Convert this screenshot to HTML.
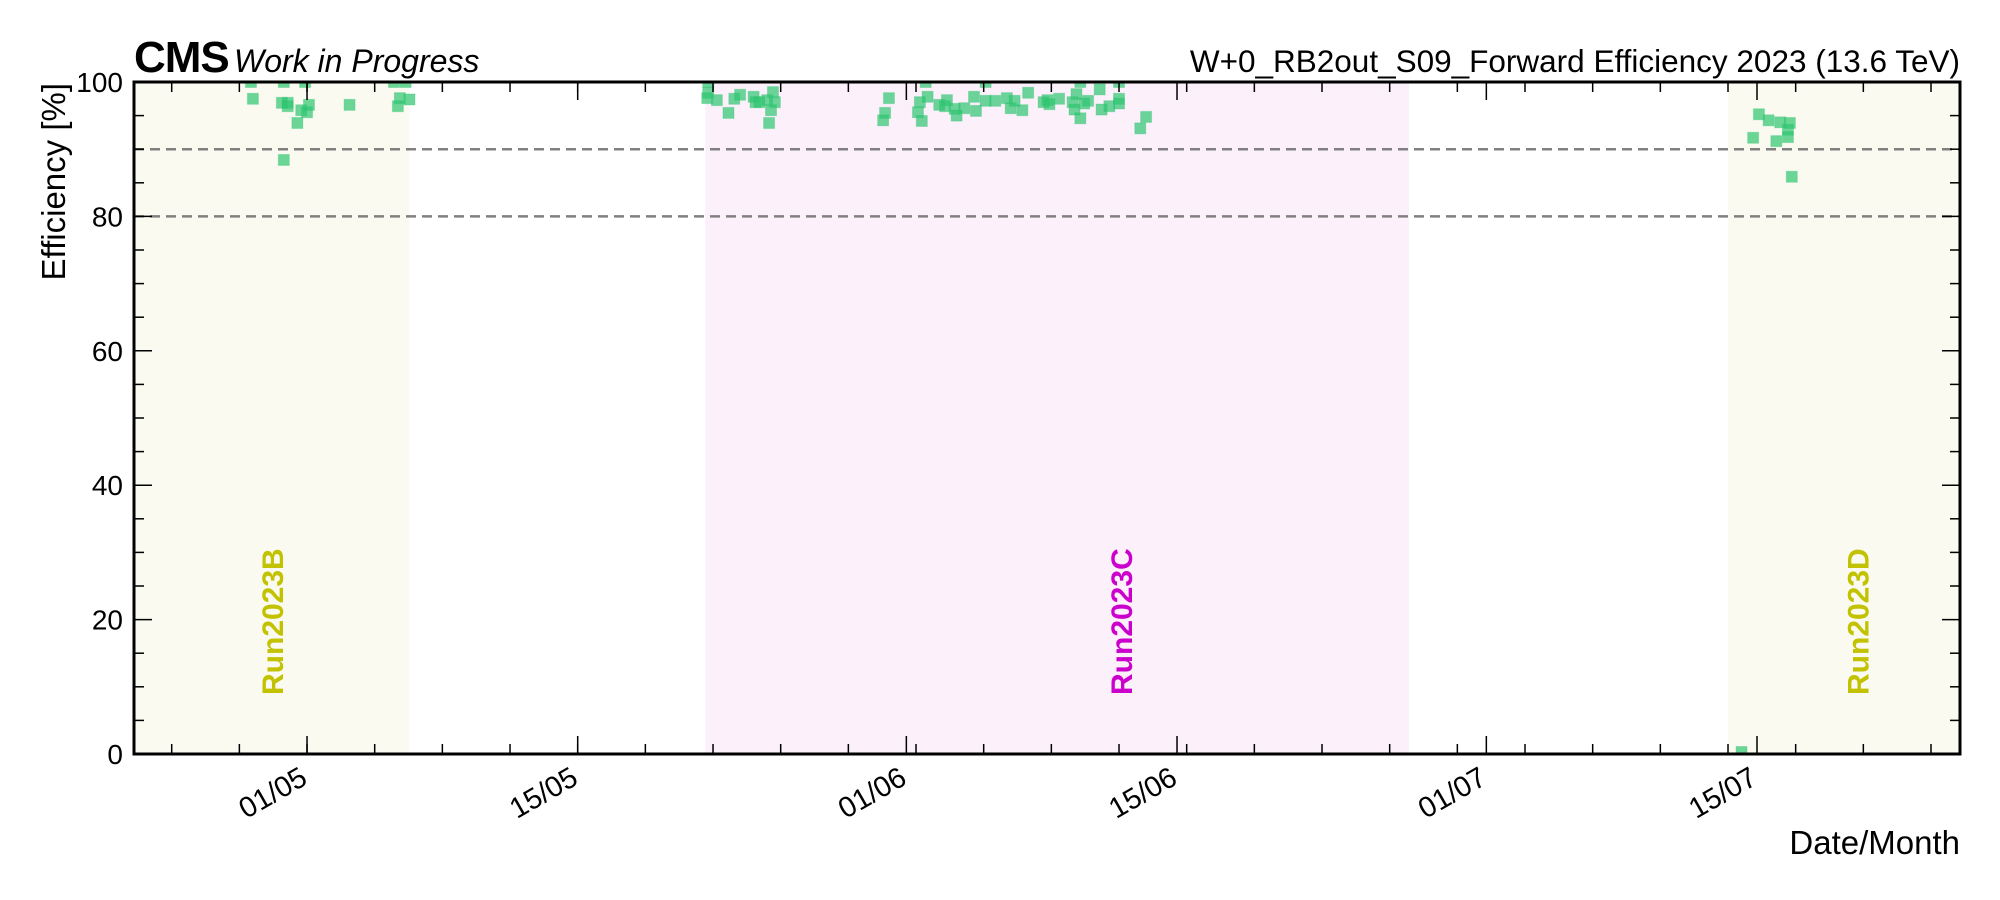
<!DOCTYPE html>
<html><head><meta charset="utf-8"><style>
html,body{margin:0;padding:0;background:#fff;}
svg{display:block;font-family:"Liberation Sans",Arial,sans-serif;}
</style></head><body>
<svg id="chart" width="2000" height="900" viewBox="0 0 2000 900" xmlns="http://www.w3.org/2000/svg">
<defs><clipPath id="plotclip"><rect x="134" y="82" width="1826" height="672"/></clipPath></defs>
<g id="bg"></g>
<g id="lines"></g>
<g id="pts" clip-path="url(#plotclip)"></g>
<g id="axes"></g>
<text x="134" y="72" font-size="44" font-weight="bold" letter-spacing="-1">CMS</text>
<text x="234" y="72" font-size="32" font-style="italic">Work in Progress</text>
<text x="1960" y="72" font-size="31.5" text-anchor="end">W+0_RB2out_S09_Forward Efficiency 2023 (13.6 TeV)</text>
<text transform="translate(65,83) rotate(-90)" font-size="33" text-anchor="end">Efficiency [%]</text>
<text x="1960" y="854" font-size="33" text-anchor="end">Date/Month</text>
</svg>
<script>
// days relative to 01/05
const xTickDays = [0, 14, 31, 45, 61, 75];
const xTickLabels = ["01/05", "15/05", "01/06", "15/06", "01/07", "15/07"];
const yTicks = [0, 20, 40, 60, 80, 100];
const thresholds = [90, 80];
const runNames = ["Run2023B", "Run2023C", "Run2023D"];
const runStart = [-8.95, 20.6, 73.5];
const runEnd = [5.3, 57.0, 85.5];
const runLabelDay = [-1.8, 42.1, 80.2];
const runColors = ["#c2c200", "#cc00cc", "#c2c200"];
const runBg = ["#fafaf0", "#fcf0fa", "#fafaf0"];
const ptDays = [-2.9,-2.8,-1.2,-1.3,-1.0,-1.0,-0.1,-0.3,0,0.1,-0.5,-1.2,2.2,4.5,5.1,4.8,5.3,4.7,
 20.75,20.75,20.7,21.2,21.8,22.1,22.4,23.1,23.2,23.4,23.8,24.1,24.2,24.0,23.9,30.1,29.9,29.8,
 32.0,31.7,32.1,31.6,31.8,32.7,33.1,33.0,33.5,33.6,34.0,34.5,34.6,35.1,35.1,35.6,36.2,36.4,36.6,37.0,37.3,
 38.1,38.4,38.3,38.9,39.6,39.7,39.8,40.0,40.2,40.4,40.0,41.0,41.1,41.5,42.0,42.0,42.0,43.4,43.1,
 75.1,75.6,76.2,76.7,76.6,76.6,76.0,74.8,76.8,74.2];
const ptVals = [100,97.5,100,96.9,96.9,96.4,100,95.8,95.5,96.6,93.9,88.4,96.6,100,100,97.6,97.4,96.4,
 100,98.4,97.6,97.3,95.4,97.5,98.1,97.8,97.0,97.0,97.3,98.5,97.0,95.8,93.9,97.6,95.4,94.3,
 100,97.0,97.8,95.5,94.2,96.6,97.3,96.4,96.0,95.0,96.1,97.8,95.7,100,97.2,97.2,97.6,96.1,97.2,95.8,98.4,
 97.0,96.7,97.3,97.5,97.0,95.9,98.2,100,96.8,97.2,94.6,98.9,95.9,96.4,100,97.5,96.8,94.8,93.1,
 95.2,94.3,94.0,93.9,92.9,91.8,91.2,91.7,85.9,0.3];

const L=134,R=1960,T=82,B=754, D0=-8.95, D1=85.5;
const xs = d => L + (d - D0) / (D1 - D0) * (R - L);
const ys = v => B - v / 100 * (B - T);
const NS="http://www.w3.org/2000/svg";
function mk(tag, attrs, parent){const e=document.createElementNS(NS,tag);for(const k in attrs)e.setAttribute(k,attrs[k]);parent.appendChild(e);return e;}
const bg=document.getElementById('bg'), lines=document.getElementById('lines'), pts=document.getElementById('pts'), axes=document.getElementById('axes');

runNames.forEach((n,i)=>{
  const x0=Math.max(L,xs(runStart[i])), x1=Math.min(R,xs(runEnd[i]));
  const r=mk('rect',{x:x0,y:T,width:x1-x0,height:B-T,fill:runBg[i]},bg);
  
  
  const cx=xs(runLabelDay[i])+11;
  const t=mk('text',{transform:`translate(${cx},695) rotate(-90)`,'font-size':30,'font-weight':'bold',fill:runColors[i]},bg);
  t.textContent=n;
  
  
});
thresholds.forEach(v=>{
  const l=mk('line',{x1:L,x2:R,y1:ys(v),y2:ys(v),stroke:'#808080','stroke-width':2.5,'stroke-dasharray':'10,6'},lines);
  
  
});
ptDays.forEach((d,i)=>{
  const x=xs(d), y=ys(ptVals[i]);
  const p=mk('rect',{x:x-5.5,y:y-5.5,width:11,height:11,fill:'#2ec46f','fill-opacity':0.7,stroke:'#2ec46f','stroke-opacity':0.3,'stroke-width':1},pts);
  
  
});
const f=mk('rect',{x:L,y:T,width:R-L,height:B-T,fill:'none',stroke:'#000','stroke-width':3},axes);


for(let v=0; v<=100; v+=5){
  const major = v%20===0, len = major?18:10;
  mk('line',{x1:L,x2:L+len,y1:ys(v),y2:ys(v),stroke:'#000','stroke-width':1.5},axes);
  mk('line',{x1:R,x2:R-len,y1:ys(v),y2:ys(v),stroke:'#000','stroke-width':1.5},axes);
}
yTicks.forEach(v=>{
  const t=mk('text',{x:123,y:ys(v)+10,'font-size':28,'text-anchor':'end'},axes);
  t.textContent=String(v);
  
  
});
for(let d=-7; d<=D1; d+=3.5){
  const x=xs(d); if(x<L+2||x>R-2) continue;
  mk('line',{x1:x,x2:x,y1:B,y2:B-10,stroke:'#000','stroke-width':1.5},axes);
  mk('line',{x1:x,x2:x,y1:T,y2:T+10,stroke:'#000','stroke-width':1.5},axes);
}
xTickDays.forEach((d,i)=>{
  const x=xs(d);
  mk('line',{x1:x,x2:x,y1:B,y2:B-18,stroke:'#000','stroke-width':1.5},axes);
  mk('line',{x1:x,x2:x,y1:T,y2:T+18,stroke:'#000','stroke-width':1.5},axes);
  const t=mk('text',{transform:`translate(${x+2},783) rotate(-30)`,'font-size':29,'text-anchor':'end'},axes);
  t.textContent=xTickLabels[i];
  
  
});
</script>
</body></html>
